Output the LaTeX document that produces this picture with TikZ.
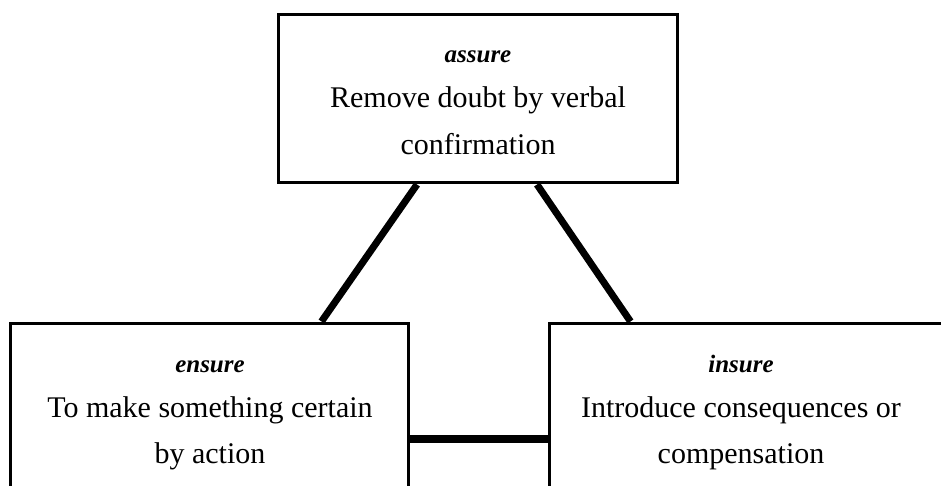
\documentclass[tikz,border=0pt]{standalone}
\usepackage{fontspec}
\setmainfont{Liberation Serif}
\begin{document}
\begin{tikzpicture}[x=1pt,y=-1pt,
  box/.style={draw=black,line width=3pt,fill=white,rectangle,inner sep=0pt},
  conn/.style={draw=black,line width=7pt},
  hconn/.style={draw=black,line width=8pt},
  title/.style={anchor=base,inner sep=0pt,font=\fontsize{25}{30}\selectfont\bfseries\itshape},
  body/.style={anchor=base,inner sep=0pt,font=\fontsize{30}{36}\selectfont}]
\useasboundingbox (0,0) rectangle (941,486);
\clip (0,0) rectangle (941,486);
\fill[white] (0,0) rectangle (941,486);
% connectors first (behind boxes)
\coordinate (tl) at (418,183);
\coordinate (tr) at (538,183);
\coordinate (ll) at (323,323);
\coordinate (rr) at (632,323);
\node[box,minimum width=399pt,minimum height=168pt] (top) at (477.5,99) {};
\node[box,minimum width=398pt,minimum height=200pt] (left) at (209,423) {};
\node[box,minimum width=400pt,minimum height=200pt] (right) at (749,423) {};
\draw[conn] ([xshift=140.5pt]top.south west) -- ([xshift=313pt]left.north west);
\draw[conn] ([xshift=260.5pt]top.south west) -- ([xshift=83pt]right.north west);
\draw[hconn] (left.east |- 0,439) -- (right.west |- 0,439);
% texts
\node[title] (t1) at (478,63) {assure};
\node[body] (t2) at (478,108) {Remove doubt by verbal};
\node[body] (t3) at (478,155) {confirmation};
\node[title] (l1) at (210,372) {ensure};
\node[body] (l2) at (210,417) {To make something certain};
\node[body] (l3) at (210,463) {by action};
\node[title] (r1) at (741,372) {insure};
\node[body] (r2) at (741,417) {Introduce consequences or};
\node[body] (r3) at (741,463) {compensation};
\end{tikzpicture}
\end{document}
